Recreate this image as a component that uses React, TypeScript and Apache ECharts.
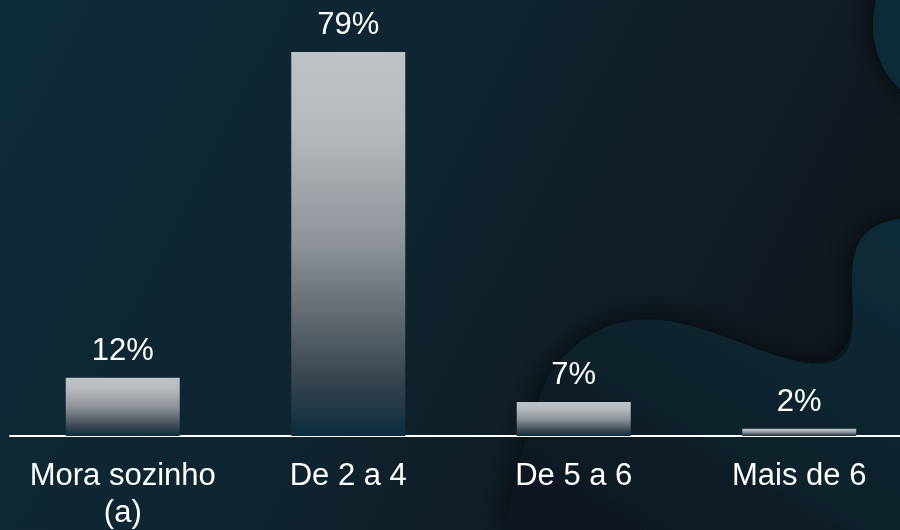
import React, { useEffect, useRef } from "react";
import * as echarts from "echarts";

const categories = ["Mora sozinho\n(a)", "De 2 a 4", "De 5 a 6", "Mais de 6"];
const values = [12, 79, 7, 1.5];
const yMax = 79;

const blobPath =
  "M 550 375 C 575 335, 615 316, 660 320 C 720 326, 790 372, 830 363 C 858 356, 853 320, 852 290 C 851 250, 858 224, 900 219 L 912 219 L 912 530 L 504 530 C 515 480, 530 410, 550 375 Z";

let registered = false;
function registerShapes() {
  if (registered) return;
  registered = true;
  echarts.graphic.registerShape("blob", (echarts.graphic as any).extendPath(blobPath, {}));
}

export default function App() {
  const ref = useRef<HTMLDivElement>(null);
  useEffect(() => {
    document.body.style.margin = "0";
    registerShapes();
    const chart = echarts.init(ref.current!, undefined, { renderer: "svg" });
    const font = "'Liberation Sans', Arial, sans-serif";
    chart.setOption({
      animation: false,
      graphic: [
        {
          type: "rect",
          z: -10,
          silent: true,
          shape: { x: 0, y: 0, width: 912, height: 530 },
          style: {
            fill: {
              type: "linear",
              x: 0, y: 0, x2: 1, y2: 0.3,
              colorStops: [
                { offset: 0, color: "#0c2a37" },
                { offset: 0.5, color: "#0f2530" },
                { offset: 0.75, color: "#101d26" },
                { offset: 1, color: "#111820" },
              ],
            },
          },
        },
        {
          type: "blob",
          z: -9,
          silent: true,
          x: 0,
          y: 0,
          scaleX: 1,
          scaleY: 1,
          style: {
            fill: {
              type: "linear",
              x: 1, y: 0, x2: 0.25, y2: 1,
              colorStops: [
                { offset: 0, color: "#0c2b38" },
                { offset: 0.45, color: "#0f2630" },
                { offset: 1, color: "#111820" },
              ],
            },
            shadowBlur: 30,
            shadowColor: "rgba(6,11,15,0.75)",
          },
        },
        {
          type: "ellipse",
          z: -9,
          silent: true,
          shape: { cx: 940, cy: 25, rx: 67, ry: 80 },
          style: {
            fill: "#0d2c39",
            shadowBlur: 25,
            shadowColor: "rgba(6,11,15,0.8)",
          },
        },
      ],
      grid: { left: 10, top: 52, right: 0, bottom: 93, containLabel: false },
      xAxis: {
        type: "category",
        data: categories,
        axisLine: { show: true, lineStyle: { color: "#ffffff", width: 2 } },
        axisTick: { show: false },
        axisLabel: {
          color: "#ffffff",
          fontFamily: font,
          fontSize: 31,
          lineHeight: 37,
          margin: 20,
          interval: 0,
        },
      },
      yAxis: {
        type: "value",
        min: 0,
        max: yMax,
        show: false,
        splitLine: { show: false },
      },
      series: [
        {
          type: "bar",
          data: values,
          barWidth: 114,
          itemStyle: {
            color: {
              type: "linear",
              x: 0, y: 0, x2: 0, y2: 1,
              colorStops: [
                { offset: 0, color: "#bdc3c6" },
                { offset: 0.2, color: "#b4babd" },
                { offset: 0.5, color: "#8d9398" },
                { offset: 0.7, color: "#5f676e" },
                { offset: 0.85, color: "#38454f" },
                { offset: 1, color: "#0b2d3f" },
              ],
            },
          },
          label: {
            show: true,
            position: "top",
            distance: 13,
            color: "#ffffff",
            fontFamily: font,
            fontSize: 31,
            formatter: (p: any) => Math.round(p.value) + "%",
          },
        },
      ],
    });
    return () => chart.dispose();
  }, []);
  return (
    <div style={{ position: "fixed", left: 0, top: 0, width: 900, height: 530, overflow: "hidden" }}>
      <div ref={ref} style={{ width: 912, height: 530 }} />
    </div>
  );
}
